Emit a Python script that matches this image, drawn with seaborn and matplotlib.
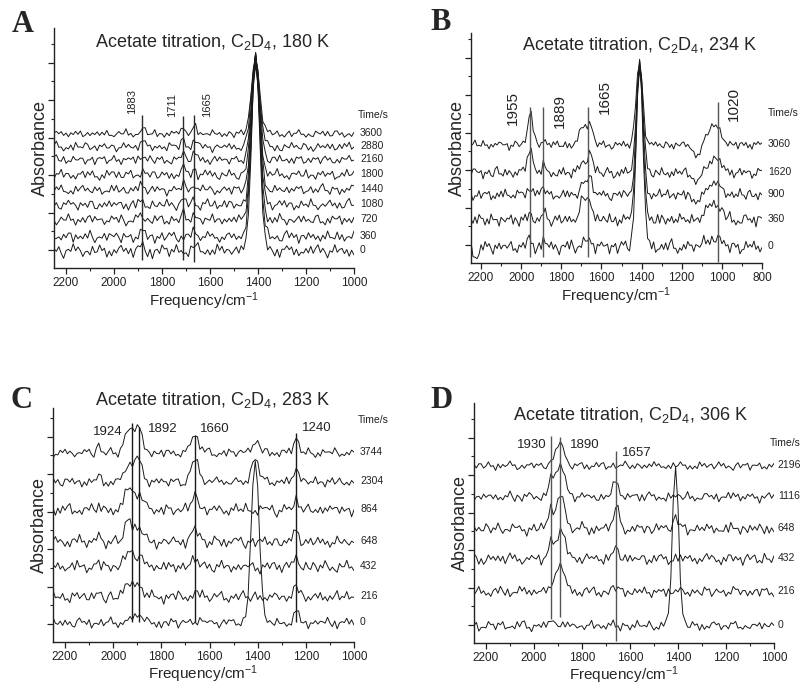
import numpy as np
import pandas as pd
import matplotlib
matplotlib.use("Agg")
import matplotlib.pyplot as plt
from matplotlib.ticker import MultipleLocator
import seaborn as sns

# ---------------- data ----------------
# hand-typed baseline wiggle patterns (unit amplitude): fine jitter + slower ripple
NOISE_FINE = [0.3, -0.5, 0.8, -0.2, -0.9, 0.4, 0.1, -0.6, 0.7, -0.3,
              0.9, -0.1, -0.7, 0.5, 0.2, -0.8, 0.6, -0.4, 0.0, 0.8,
              -0.6, 0.3, -0.9, 0.5, -0.2, 0.7, -0.5, 0.1, 0.9, -0.7,
              0.4, -0.3, 0.6, -0.8, 0.2, 0.5, -0.4, 0.8, -0.1, -0.6,
              0.7, -0.9, 0.3, 0.1, -0.5, 0.9, -0.2, 0.4, -0.7, 0.6,
              -0.3, 0.8, -0.6, 0.2, -0.1, 0.5, -0.8, 0.7, -0.4, 0.3,
              0.9, -0.5, 0.1, -0.7, 0.6, -0.2, 0.4, -0.9, 0.8, -0.3,
              0.2, -0.6, 0.5, 0.7, -0.4, -0.1, 0.9, -0.8, 0.3, -0.5,
              0.6, -0.2, -0.7, 0.4, 0.8, -0.6, 0.1, -0.3, 0.7, -0.9,
              0.5, 0.2, -0.4, 0.6, -0.8, 0.3, -0.1, 0.9, -0.5, 0.4,
              -0.7, 0.8, -0.2, 0.1, -0.6, 0.5, -0.9, 0.7, -0.3, 0.2,
              0.6, -0.4, 0.9, -0.1, -0.8, 0.3, -0.5, 0.7, -0.6, 0.4,
              0.1, -0.7, 0.8, -0.3, 0.5, -0.9, 0.2, 0.6, -0.4, -0.2,
              0.7, -0.5, 0.3, -0.8, 0.9, -0.1, 0.4, -0.6, 0.2, 0.8,
              -0.3, 0.5, -0.7, 0.1, 0.6, -0.9, 0.4, -0.2, 0.7, -0.4]
NOISE_SLOW = [0.2, 0.5, 0.1, -0.3, -0.7, -0.4, 0.3, 0.6, 0.9, 0.4,
              -0.1, 0.2, -0.5, -0.8, -0.3, 0.0, 0.4, 0.1, -0.2, 0.5,
              0.8, 0.3, -0.4, -0.6, -0.9, -0.5, 0.1, 0.6, 0.3, 0.7,
              0.2, -0.3, -0.1, -0.6, 0.2, 0.5, 0.9, 0.6, -0.2, -0.7,
              -0.4, -0.8, -0.2, 0.3, 0.0, 0.4, 0.7, 0.2, -0.5, -0.3,
              0.1, 0.6, 0.4, -0.1, -0.6, -1.0, -0.4, 0.2, 0.5, 0.1,
              0.8, 0.4, -0.3, 0.1, -0.4, -0.7, -0.2, 0.3, 0.7, 0.5,
              0.9, 0.2, -0.2, -0.6, -0.3, 0.2, -0.1, 0.4, 0.8, 0.3,
              -0.5, -0.8, -0.5, 0.0, 0.3, 0.6, 0.1, -0.3, 0.2, 0.7,
              0.4, -0.2, -0.7, -0.3, -0.6, 0.1, 0.5, 0.2, 0.9, 0.5,
              -0.1, -0.5, -0.9, -0.4, 0.2, 0.0, 0.6, 0.3, -0.2, 0.4,
              0.8, 0.1, -0.4, -0.2, -0.7, -0.3, 0.3, 0.7, 0.4, -0.1,
              0.5, 0.2, -0.6, -0.9, -0.4, 0.1, 0.6, 0.9, 0.3, -0.3,
              0.1, -0.2, -0.6, 0.0, 0.5, 0.3, 0.8, 0.2, -0.4, -0.7,
              -0.1, 0.4, 0.1, -0.5, -0.2, 0.6, 0.9, 0.4, -0.3, -0.5]

# Panel A, 180 K
A_TIMES = [0, 360, 720, 1080, 1440, 1800, 2160, 2880, 3600]
A_OFFSETS = [17, 31, 48, 63, 78, 93, 108, 121, 134]
A_NOISE_AMP = [7, 6.5, 6, 6, 5.5, 5.5, 5, 5, 4.5]
A_CENTERS = [1883, 1711, 1665, 1410]
A_SIGMAS = [10, 7, 8, 17]
A_HEIGHTS = [[3, 0, 4, 193], [4, 3, 4, 179], [3, 5, 5, 162],
             [3, 7, 5, 147], [3, 7, 6, 132], [4, 8, 6, 117],
             [4, 8, 7, 102], [5, 8, 7, 89], [5, 9, 8, 76]]
A_MARKS = [1883, 1711, 1665]
A_MARK_LO = [8, 8, 6]
A_MARK_HI = [153, 152, 153]
A_LABEL_X = [1925, 1758, 1612]
A_LABEL_Y = [166, 163, 163]

# Panel B, 234 K
B_TIMES = [0, 360, 900, 1620, 3060]
B_OFFSETS = [16, 43, 68, 90, 118]
B_NOISE_AMP = [7.5, 7, 6, 6, 5]
B_CENTERS = [1955, 1889, 1690, 1655, 1410, 1040, 1120, 2230]
B_SIGMAS = [13, 8, 16, 12, 16, 32, 20, 10]
B_HEIGHTS = [[6, 6, 4, 6, 185, 10, 0, -14],
             [3, 8, 22, 18, 158, 18, 0, 0],
             [8, 10, 10, 18, 133, 12, -8, 0],
             [26, 8, 12, 20, 111, 15, -10, 0],
             [32, 6, 20, 22, 83, 20, -12, 0]]
B_MARKS = [1955, 1889, 1665, 1020]
B_MARK_LO = [6, 6, 6, 1]
B_MARK_HI = [156, 156, 156, 161]
B_LABEL_X = [2040, 1805, 1585, 940]
B_LABEL_Y = [155, 152, 166, 159]

# Panel C, 283 K
C_TIMES = [0, 216, 432, 648, 864, 2304, 3744]
C_OFFSETS = [19, 45, 75, 100, 132, 160, 189]
C_NOISE_AMP = [5.5, 6.5, 6.5, 6.5, 6.5, 5.5, 5]
C_CENTERS = [2060, 1935, 1895, 1660, 1410, 1240]
C_SIGMAS = [8, 16, 16, 16, 16, 9]
C_HEIGHTS = [[0, 3, 8, 3, 166, 12],
             [3, 14, 12, 4, 0, 10],
             [4, 15, 12, 7, 0, 12],
             [6, 22, 14, 12, 0, 12],
             [5, 22, 16, 13, 0, 12],
             [5, 18, 22, 22, 22, 16],
             [8, 25, 24, 18, 12, 17]]
C_MARKS = [1924, 1892, 1660, 1240]
C_MARK_LO = [20, 20, 20, 20]
C_MARK_HI = [219, 215, 207, 209]
C_LABEL_X = [2022, 1794, 1578, 1155]
C_LABEL_Y = [210, 213, 213, 214]

# Panel D, 306 K
D_TIMES = [0, 216, 432, 648, 1116, 2196]
D_OFFSETS = [17, 51, 84, 114, 146, 177]
D_NOISE_AMP = [5.5, 5.5, 6.5, 6.5, 5.5, 4.5]
D_CENTERS = [1930, 1890, 1657, 1410]
D_SIGMAS = [10, 18, 13, 13]
D_HEIGHTS = [[4, 2, 0, 162],
             [6, 27, 4, 0],
             [14, 30, 10, 0],
             [22, 32, 20, 10],
             [18, 33, 15, 0],
             [4, 22, 0, 0]]
D_MARKS = [1930, 1890, 1657]
D_MARK_LO = [24, 26, 2]
D_MARK_HI = [207, 206, 192]
D_LABEL_X = [2008, 1788, 1571]
D_LABEL_Y = [198, 198, 190]

# ---------------- style ----------------
sns.set_style("ticks")
plt.rcParams["font.family"] = ["Liberation Sans", "DejaVu Sans"]
plt.rcParams["mathtext.default"] = "regular"
W, H = 803, 688
fig = plt.figure(figsize=(W / 100, H / 100), dpi=100)


def px_axes(l, t, r, b):
    return fig.add_axes([l / W, 1 - b / H, (r - l) / W, (b - t) / H])


def build_frame(lo, times, offsets, amps, centers, sigmas, heights, shift):
    freq = np.arange(2250, lo - 1, -10, dtype=float)
    n = len(freq)
    fine = np.array(NOISE_FINE)
    slow = np.array(NOISE_SLOW)
    rows = []
    for i, t in enumerate(times):
        y = np.full(n, float(offsets[i]))
        for c, s, h in zip(centers, sigmas, heights[i]):
            y += h * np.exp(-(freq - c) ** 2 / (2 * s ** 2))
        wig = 0.7 * np.roll(fine, 13 * i + shift)[:n] + \
            0.6 * np.roll(slow, 29 * i + 2 * shift)[:n]
        y += amps[i] * wig
        rows.append(pd.DataFrame({"freq": freq, "abs": y, "time": t}))
    return pd.concat(rows, ignore_index=True)


def draw_panel(box, lo, ylim, times, offsets, amps, centers, sigmas, heights,
               marks, mlo, mhi, lx, ly, rotated, lfs, shift, title, tpos,
               timepos, letter, letpos, markcolor, xlpad):
    ax = px_axes(*box)
    df = build_frame(lo, times, offsets, amps, centers, sigmas, heights, shift)
    sns.lineplot(data=df, x="freq", y="abs", units="time", estimator=None,
                 color="#1a1a1a", lw=0.7, ax=ax, sort=False)
    ax.vlines(marks, mlo, mhi, color=markcolor, lw=1.0)
    for m, x, y in zip(marks, lx, ly):
        ax.text(x, y, str(m), fontsize=lfs, ha="center", va="center",
                rotation=90 if rotated else 0, color="#222222")
    ax.set_xlim(2250, lo)
    ax.set_ylim(0, ylim)
    ax.xaxis.set_major_locator(MultipleLocator(200))
    ax.xaxis.set_minor_locator(MultipleLocator(100))
    ax.yaxis.set_major_locator(MultipleLocator(37.5, offset=18))
    ax.yaxis.set_minor_locator(MultipleLocator(18.75, offset=18))
    ax.tick_params(axis="both", which="major", direction="out", length=4,
                   width=0.9, labelsize=8.5, pad=2.5, colors="#222222")
    ax.tick_params(axis="both", which="minor", direction="out", length=2.2,
                   width=0.8)
    ax.tick_params(axis="y", labelleft=False)
    sns.despine(ax=ax)
    for sp in ("left", "bottom"):
        ax.spines[sp].set_linewidth(1.0)
        ax.spines[sp].set_color("#222222")
    ax.set_ylabel("Absorbance", fontsize=13, labelpad=-2)
    ax.set_xlabel("Frequency/cm$^{-1}$", fontsize=11, labelpad=xlpad)
    ax.text(tpos[0], tpos[1], title, transform=ax.transAxes, fontsize=13,
            ha="center", va="center")
    trans = ax.get_yaxis_transform()
    ax.text(timepos[0], timepos[1], "Time/s", transform=trans, fontsize=7.5,
            ha="left", va="center", color="#222222")
    for t, off in zip(times, offsets):
        ax.text(timepos[2], off + 1, str(t), transform=trans, fontsize=7.5,
                ha="left", va="center", color="#222222")
    fig.text(letpos[0] / W, 1 - letpos[1] / H, letter, fontsize=22,
             fontweight="bold", family=["Liberation Serif", "DejaVu Serif"],
             ha="center", va="center")
    return ax


draw_panel((54, 28, 354, 268), 1000, 240, A_TIMES, A_OFFSETS, A_NOISE_AMP,
           A_CENTERS, A_SIGMAS, A_HEIGHTS, A_MARKS, A_MARK_LO, A_MARK_HI,
           A_LABEL_X, A_LABEL_Y, True, 8, 0,
           "Acetate titration, C$_2$D$_4$, 180 K", (0.53, 0.94),
           (1.013, 153, 1.02), "A", (23, 24), "#2a2a2a", 1)

draw_panel((471, 33, 762, 263), 800, 230, B_TIMES, B_OFFSETS, B_NOISE_AMP,
           B_CENTERS, B_SIGMAS, B_HEIGHTS, B_MARKS, B_MARK_LO, B_MARK_HI,
           B_LABEL_X, B_LABEL_Y, True, 11, 40,
           "Acetate titration, C$_2$D$_4$, 234 K", (0.58, 0.948),
           (1.02, 150, 1.02), "B", (441, 23), "#555555", 1)

draw_panel((53, 408, 354, 642), 1000, 234, C_TIMES, C_OFFSETS, C_NOISE_AMP,
           C_CENTERS, C_SIGMAS, C_HEIGHTS, C_MARKS, C_MARK_LO, C_MARK_HI,
           C_LABEL_X, C_LABEL_Y, False, 9.5, 77,
           "Acetate titration, C$_2$D$_4$, 283 K", (0.53, 1.034),
           (1.013, 222, 1.02), "C", (22, 400), "#1a1a1a", 0)

draw_panel((474, 403, 774, 643), 1000, 240, D_TIMES, D_OFFSETS, D_NOISE_AMP,
           D_CENTERS, D_SIGMAS, D_HEIGHTS, D_MARKS, D_MARK_LO, D_MARK_HI,
           D_LABEL_X, D_LABEL_Y, False, 9.5, 111,
           "Acetate titration, C$_2$D$_4$, 306 K", (0.523, 0.95),
           (0.987, 200, 1.013), "D", (442, 400), "#555555", 0)

fig.savefig("out.png", dpi=100, facecolor="white")
